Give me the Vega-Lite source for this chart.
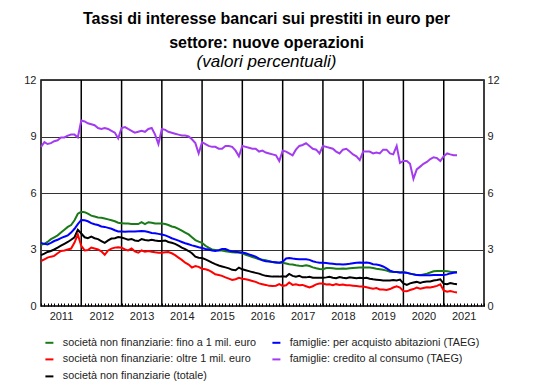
{
  "$schema": "https://vega.github.io/schema/vega-lite/v6.json",
  "autosize": {"type": "none"},
  "padding": {"left": 41, "top": 80, "right": 54, "bottom": 81},
  "width": 443,
  "height": 226,
  "background": "white",
  "title": {
    "text": ["Tassi di interesse bancari sui prestiti in euro per", "settore: nuove operazioni"],
    "subtitle": "(valori percentuali)",
    "font": "Liberation Sans",
    "fontSize": 16,
    "fontWeight": "bold",
    "lineHeight": 24.5,
    "color": "black",
    "subtitleFont": "Liberation Sans",
    "subtitleFontSize": 17,
    "subtitleFontStyle": "italic",
    "subtitleColor": "black",
    "subtitlePadding": 3,
    "anchor": "middle",
    "frame": "group",
    "dx": 4,
    "offset": 4
  },
  "config": {
    "view": {"stroke": "black", "strokeWidth": 1.5},
    "axis": {"labelFont": "Liberation Sans", "labelFontSize": 11, "labelColor": "#222"}
  },
  "layer": [
    {
      "data": {
        "values": [
          {"t": 1325376000000}, {"t": 1356998400000}, {"t": 1388534400000}, {"t": 1420070400000}, {"t": 1451606400000},
          {"t": 1483228800000}, {"t": 1514764800000}, {"t": 1546300800000}, {"t": 1577836800000}, {"t": 1609459200000}
        ]
      },
      "mark": {"type": "rule", "stroke": "black", "strokeWidth": 1.5},
      "encoding": {
        "x": {
          "field": "t",
          "type": "temporal",
          "scale": {"type": "utc", "domain": [{"year": 2011, "month": 1, "date": 1, "utc": true}, {"year": 2022, "month": 1, "date": 1, "utc": true}]},
          "axis": null
        },
        "y": {
          "datum": 0,
          "type": "quantitative",
          "scale": {"domain": [0, 12], "nice": false},
          "axis": {
            "title": null,
            "orient": "right",
            "values": [0, 3, 6, 9, 12],
            "ticks": false,
            "domain": false,
            "grid": false,
            "labelPadding": 3
          }
        },
        "y2": {"datum": 12}
      }
    },
    {
      "data": {
        "values": [
          {"d":"2011-01-01","g":3.25,"b":3.35,"k":2.7,"r":2.39,"p":8.45},
          {"d":"2011-02-01","g":3.3,"b":3.3,"k":2.78,"r":2.48,"p":8.7},
          {"d":"2011-03-01","g":3.4,"b":3.27,"k":2.87,"r":2.57,"p":8.6},
          {"d":"2011-04-01","g":3.55,"b":3.35,"k":2.92,"r":2.62,"p":8.65},
          {"d":"2011-05-01","g":3.65,"b":3.45,"k":3.0,"r":2.66,"p":8.75},
          {"d":"2011-06-01","g":3.75,"b":3.52,"k":3.1,"r":2.8,"p":8.8},
          {"d":"2011-07-01","g":3.9,"b":3.6,"k":3.2,"r":2.92,"p":8.95},
          {"d":"2011-08-01","g":4.05,"b":3.68,"k":3.3,"r":2.95,"p":8.95},
          {"d":"2011-09-01","g":4.2,"b":3.75,"k":3.4,"r":3.0,"p":9.05},
          {"d":"2011-10-01","g":4.3,"b":3.9,"k":3.52,"r":3.05,"p":9.1},
          {"d":"2011-11-01","g":4.55,"b":4.1,"k":3.65,"r":3.37,"p":9.1},
          {"d":"2011-12-01","g":4.9,"b":4.35,"k":4.05,"r":3.8,"p":8.95},
          {"d":"2012-01-01","g":5.0,"b":4.57,"k":3.85,"r":3.2,"p":9.85},
          {"d":"2012-02-01","g":4.98,"b":4.55,"k":3.65,"r":2.95,"p":9.8},
          {"d":"2012-03-01","g":4.9,"b":4.5,"k":3.6,"r":2.97,"p":9.7},
          {"d":"2012-04-01","g":4.8,"b":4.4,"k":3.68,"r":3.1,"p":9.65},
          {"d":"2012-05-01","g":4.75,"b":4.34,"k":3.6,"r":3.05,"p":9.6},
          {"d":"2012-06-01","g":4.7,"b":4.3,"k":3.55,"r":3.0,"p":9.45},
          {"d":"2012-07-01","g":4.68,"b":4.22,"k":3.45,"r":2.9,"p":9.4},
          {"d":"2012-08-01","g":4.65,"b":4.2,"k":3.35,"r":2.72,"p":9.45},
          {"d":"2012-09-01","g":4.6,"b":4.15,"k":3.48,"r":2.95,"p":9.4},
          {"d":"2012-10-01","g":4.55,"b":4.1,"k":3.58,"r":3.05,"p":9.3},
          {"d":"2012-11-01","g":4.5,"b":4.02,"k":3.6,"r":3.1,"p":9.2},
          {"d":"2012-12-01","g":4.42,"b":3.96,"k":3.66,"r":3.12,"p":8.9},
          {"d":"2013-01-01","g":4.4,"b":3.95,"k":3.64,"r":3.1,"p":9.45},
          {"d":"2013-02-01","g":4.38,"b":3.94,"k":3.58,"r":3.0,"p":9.5},
          {"d":"2013-03-01","g":4.38,"b":3.95,"k":3.52,"r":2.95,"p":9.4},
          {"d":"2013-04-01","g":4.36,"b":3.96,"k":3.56,"r":3.05,"p":9.3},
          {"d":"2013-05-01","g":4.35,"b":3.95,"k":3.48,"r":2.9,"p":9.2},
          {"d":"2013-06-01","g":4.35,"b":3.97,"k":3.45,"r":2.83,"p":9.25},
          {"d":"2013-07-01","g":4.45,"b":3.98,"k":3.55,"r":2.95,"p":9.3},
          {"d":"2013-08-01","g":4.35,"b":3.97,"k":3.5,"r":2.88,"p":9.25},
          {"d":"2013-09-01","g":4.45,"b":3.93,"k":3.48,"r":2.92,"p":9.4},
          {"d":"2013-10-01","g":4.42,"b":3.88,"k":3.52,"r":2.88,"p":9.45},
          {"d":"2013-11-01","g":4.38,"b":3.86,"k":3.48,"r":2.85,"p":9.1},
          {"d":"2013-12-01","g":4.38,"b":3.83,"k":3.45,"r":2.83,"p":8.6},
          {"d":"2014-01-01","g":4.38,"b":3.8,"k":3.45,"r":2.83,"p":9.4},
          {"d":"2014-02-01","g":4.35,"b":3.75,"k":3.48,"r":2.85,"p":9.35},
          {"d":"2014-03-01","g":4.3,"b":3.68,"k":3.4,"r":2.87,"p":9.25},
          {"d":"2014-04-01","g":4.22,"b":3.6,"k":3.36,"r":2.8,"p":9.2},
          {"d":"2014-05-01","g":4.18,"b":3.54,"k":3.3,"r":2.7,"p":9.15},
          {"d":"2014-06-01","g":4.1,"b":3.47,"k":3.2,"r":2.57,"p":9.1},
          {"d":"2014-07-01","g":4.0,"b":3.4,"k":3.1,"r":2.45,"p":9.05},
          {"d":"2014-08-01","g":3.9,"b":3.33,"k":3.02,"r":2.3,"p":9.05},
          {"d":"2014-09-01","g":3.8,"b":3.28,"k":2.92,"r":2.2,"p":9.0},
          {"d":"2014-10-01","g":3.65,"b":3.22,"k":2.8,"r":2.04,"p":8.85},
          {"d":"2014-11-01","g":3.5,"b":3.17,"k":2.62,"r":2.12,"p":8.65},
          {"d":"2014-12-01","g":3.42,"b":3.12,"k":2.56,"r":2.08,"p":8.1},
          {"d":"2015-01-01","g":3.35,"b":3.08,"k":2.55,"r":1.98,"p":8.7},
          {"d":"2015-02-01","g":3.2,"b":3.03,"k":2.48,"r":1.95,"p":8.6},
          {"d":"2015-03-01","g":3.1,"b":3.0,"k":2.4,"r":1.9,"p":8.5},
          {"d":"2015-04-01","g":3.0,"b":2.95,"k":2.3,"r":1.8,"p":8.45},
          {"d":"2015-05-01","g":2.98,"b":2.92,"k":2.22,"r":1.68,"p":8.45},
          {"d":"2015-06-01","g":2.95,"b":2.96,"k":2.15,"r":1.65,"p":8.35},
          {"d":"2015-07-01","g":2.95,"b":3.02,"k":2.1,"r":1.6,"p":8.35},
          {"d":"2015-08-01","g":2.9,"b":3.02,"k":2.05,"r":1.52,"p":8.5},
          {"d":"2015-09-01","g":2.88,"b":2.95,"k":2.0,"r":1.45,"p":8.5},
          {"d":"2015-10-01","g":2.85,"b":2.9,"k":1.92,"r":1.38,"p":8.45},
          {"d":"2015-11-01","g":2.84,"b":2.88,"k":1.9,"r":1.42,"p":8.25},
          {"d":"2015-12-01","g":2.84,"b":2.86,"k":2.04,"r":1.5,"p":7.95},
          {"d":"2016-01-01","g":2.8,"b":2.84,"k":1.95,"r":1.45,"p":8.5},
          {"d":"2016-02-01","g":2.72,"b":2.8,"k":1.9,"r":1.42,"p":8.45},
          {"d":"2016-03-01","g":2.66,"b":2.74,"k":1.85,"r":1.38,"p":8.4},
          {"d":"2016-04-01","g":2.6,"b":2.68,"k":1.8,"r":1.33,"p":8.35},
          {"d":"2016-05-01","g":2.55,"b":2.62,"k":1.76,"r":1.28,"p":8.35},
          {"d":"2016-06-01","g":2.48,"b":2.52,"k":1.72,"r":1.2,"p":8.2},
          {"d":"2016-07-01","g":2.46,"b":2.42,"k":1.65,"r":1.16,"p":8.25},
          {"d":"2016-08-01","g":2.43,"b":2.38,"k":1.6,"r":1.12,"p":8.15},
          {"d":"2016-09-01","g":2.38,"b":2.36,"k":1.58,"r":1.07,"p":8.1},
          {"d":"2016-10-01","g":2.33,"b":2.34,"k":1.56,"r":1.06,"p":8.05},
          {"d":"2016-11-01","g":2.3,"b":2.32,"k":1.56,"r":1.08,"p":8.0},
          {"d":"2016-12-01","g":2.3,"b":2.3,"k":1.56,"r":1.16,"p":7.7},
          {"d":"2017-01-01","g":2.3,"b":2.35,"k":1.58,"r":1.07,"p":8.25},
          {"d":"2017-02-01","g":2.26,"b":2.52,"k":1.56,"r":1.1,"p":8.2},
          {"d":"2017-03-01","g":2.22,"b":2.55,"k":1.7,"r":1.25,"p":8.1},
          {"d":"2017-04-01","g":2.2,"b":2.52,"k":1.6,"r":1.12,"p":8.0},
          {"d":"2017-05-01","g":2.16,"b":2.5,"k":1.55,"r":1.15,"p":8.3},
          {"d":"2017-06-01","g":2.14,"b":2.48,"k":1.6,"r":1.1,"p":8.5},
          {"d":"2017-07-01","g":2.13,"b":2.48,"k":1.52,"r":1.12,"p":8.55},
          {"d":"2017-08-01","g":2.16,"b":2.48,"k":1.52,"r":1.05,"p":8.65},
          {"d":"2017-09-01","g":2.12,"b":2.45,"k":1.55,"r":0.98,"p":8.5},
          {"d":"2017-10-01","g":2.05,"b":2.38,"k":1.5,"r":1.05,"p":8.35},
          {"d":"2017-11-01","g":2.0,"b":2.33,"k":1.5,"r":1.15,"p":8.3},
          {"d":"2017-12-01","g":1.96,"b":2.3,"k":1.5,"r":1.19,"p":8.1},
          {"d":"2018-01-01","g":1.95,"b":2.29,"k":1.5,"r":1.19,"p":8.5},
          {"d":"2018-02-01","g":2.02,"b":2.28,"k":1.52,"r":1.14,"p":8.45},
          {"d":"2018-03-01","g":2.02,"b":2.26,"k":1.55,"r":1.15,"p":8.4},
          {"d":"2018-04-01","g":2.0,"b":2.24,"k":1.5,"r":1.1,"p":8.35},
          {"d":"2018-05-01","g":1.98,"b":2.22,"k":1.48,"r":1.16,"p":8.2},
          {"d":"2018-06-01","g":1.98,"b":2.22,"k":1.54,"r":1.12,"p":8.1},
          {"d":"2018-07-01","g":1.99,"b":2.2,"k":1.5,"r":1.14,"p":8.3},
          {"d":"2018-08-01","g":1.98,"b":2.22,"k":1.48,"r":1.1,"p":8.35},
          {"d":"2018-09-01","g":2.0,"b":2.24,"k":1.52,"r":1.1,"p":8.2},
          {"d":"2018-10-01","g":2.02,"b":2.27,"k":1.5,"r":1.08,"p":8.05},
          {"d":"2018-11-01","g":2.03,"b":2.3,"k":1.48,"r":1.06,"p":7.95},
          {"d":"2018-12-01","g":2.04,"b":2.31,"k":1.5,"r":1.04,"p":7.75},
          {"d":"2019-01-01","g":2.05,"b":2.3,"k":1.47,"r":1.04,"p":8.2},
          {"d":"2019-02-01","g":2.04,"b":2.31,"k":1.5,"r":1.0,"p":8.2},
          {"d":"2019-03-01","g":2.04,"b":2.28,"k":1.45,"r":0.96,"p":8.2},
          {"d":"2019-04-01","g":2.02,"b":2.22,"k":1.42,"r":0.92,"p":8.1},
          {"d":"2019-05-01","g":1.98,"b":2.2,"k":1.4,"r":0.95,"p":8.15},
          {"d":"2019-06-01","g":1.95,"b":2.16,"k":1.38,"r":0.88,"p":8.1},
          {"d":"2019-07-01","g":1.92,"b":2.1,"k":1.36,"r":0.88,"p":8.3},
          {"d":"2019-08-01","g":1.88,"b":2.0,"k":1.36,"r":0.85,"p":8.3},
          {"d":"2019-09-01","g":1.82,"b":1.88,"k":1.35,"r":0.9,"p":8.1},
          {"d":"2019-10-01","g":1.8,"b":1.82,"k":1.38,"r":0.98,"p":8.05},
          {"d":"2019-11-01","g":1.8,"b":1.8,"k":1.36,"r":1.05,"p":8.5},
          {"d":"2019-12-01","g":1.78,"b":1.78,"k":1.4,"r":0.98,"p":7.6},
          {"d":"2020-01-01","g":1.8,"b":1.78,"k":1.2,"r":0.8,"p":7.7},
          {"d":"2020-02-01","g":1.76,"b":1.76,"k":1.12,"r":0.78,"p":7.7},
          {"d":"2020-03-01","g":1.72,"b":1.72,"k":1.2,"r":0.85,"p":7.55},
          {"d":"2020-04-01","g":1.68,"b":1.68,"k":1.25,"r":0.9,"p":6.75},
          {"d":"2020-05-01","g":1.65,"b":1.64,"k":1.28,"r":0.98,"p":7.25},
          {"d":"2020-06-01","g":1.64,"b":1.63,"k":1.22,"r":0.92,"p":7.4},
          {"d":"2020-07-01","g":1.68,"b":1.63,"k":1.28,"r":0.96,"p":7.55},
          {"d":"2020-08-01","g":1.72,"b":1.63,"k":1.3,"r":1.0,"p":7.65},
          {"d":"2020-09-01","g":1.78,"b":1.63,"k":1.3,"r":0.98,"p":7.8},
          {"d":"2020-10-01","g":1.84,"b":1.64,"k":1.35,"r":1.02,"p":7.9},
          {"d":"2020-11-01","g":1.86,"b":1.64,"k":1.38,"r":1.07,"p":7.85},
          {"d":"2020-12-01","g":1.86,"b":1.64,"k":1.42,"r":1.15,"p":7.7},
          {"d":"2021-01-01","g":1.86,"b":1.64,"k":1.18,"r":0.82,"p":7.95},
          {"d":"2021-02-01","g":1.85,"b":1.68,"k":1.16,"r":0.76,"p":8.1},
          {"d":"2021-03-01","g":1.82,"b":1.73,"k":1.22,"r":0.8,"p":8.05},
          {"d":"2021-04-01","g":1.8,"b":1.77,"k":1.18,"r":0.75,"p":8.0},
          {"d":"2021-05-01","g":1.8,"b":1.78,"k":1.15,"r":0.72,"p":8.0}
        ]
      },
      "transform": [
        {"fold": ["g", "b", "k", "r", "p"], "as": ["s", "value"]}
      ],
      "mark": {"type": "line", "strokeWidth": 2},
      "encoding": {
        "x": {
          "field": "d",
          "type": "temporal",
          "scale": {"type": "utc", "domain": [{"year": 2011, "month": 1, "date": 1, "utc": true}, {"year": 2022, "month": 1, "date": 1, "utc": true}]},
          "axis": {
            "orient": "bottom",
            "title": null,
            "domain": false,
            "tickCount": {"interval": "month", "step": 1},
            "tickSize": -3,
            "tickColor": "black",
            "tickWidth": 1,
            "grid": false,
            "labelExpr": "utcmonth(datum.value) === 6 ? utcFormat(datum.value, '%Y') : ''",
            "labelOverlap": false,
            "labelFlush": false,
            "labelBound": false,
            "labelPadding": 7,
            "labelBaseline": "top"
          }
        },
        "y": {
          "field": "value",
          "type": "quantitative",
          "scale": {"domain": [0, 12], "nice": false},
          "axis": {
            "title": null,
            "values": [0, 3, 6, 9, 12],
            "ticks": false,
            "domain": false,
            "grid": true,
            "gridColor": "#333",
            "gridWidth": 1,
            "labelPadding": 5
          }
        },
        "color": {
          "field": "s",
          "type": "nominal",
          "scale": {
            "domain": ["g", "r", "k", "b", "p"],
            "range": ["#1a7a1a", "#ff0000", "#000000", "#0000ff", "#a33cf0"]
          },
          "legend": {
            "orient": "none",
            "legendX": 3,
            "legendY": 257,
            "columns": 2,
            "title": null,
            "padding": 0,
            "symbolType": "stroke",
            "symbolStrokeWidth": 2,
            "symbolSize": 64,
            "labelFont": "Liberation Sans",
            "labelFontSize": 10.8,
            "labelColor": "#222",
            "labelLimit": 400,
            "labelOffset": 8,
            "rowPadding": 5,
            "columnPadding": 11,
            "labelExpr": "datum.label === 'g' ? 'società non finanziarie: fino a 1 mil. euro' : datum.label === 'b' ? 'famiglie: per acquisto abitazioni (TAEG)' : datum.label === 'r' ? 'società non finanziarie: oltre 1 mil. euro' : datum.label === 'p' ? 'famiglie: credito al consumo (TAEG)' : 'società non finanziarie (totale)'"
          }
        }
      }
    }
  ],
  "resolve": {"axis": {"x": "independent", "y": "independent"}}
}
